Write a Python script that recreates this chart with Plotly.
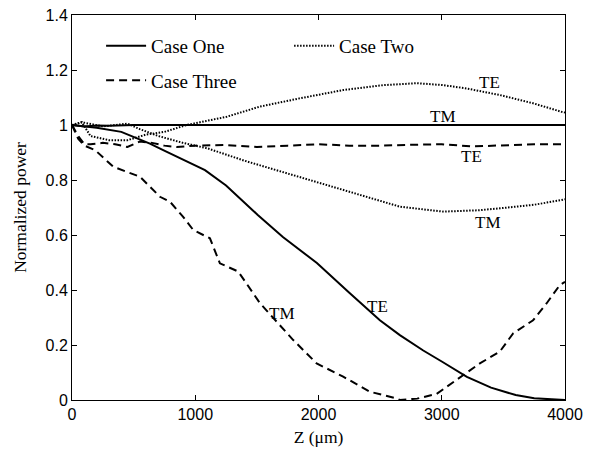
import plotly.graph_objects as go

# ---- data ----
z_one_tm = [0, 100, 200, 300, 500, 800, 1200, 1600, 2000, 2500, 3000, 3500, 4000]
p_one_tm = [1.0, 0.995, 0.998, 0.997, 1.0, 0.999, 1.0, 1.0, 1.0, 1.0, 1.0, 1.0, 1.0]

z_one_te = [0, 200, 400, 632, 740, 930, 1079, 1250, 1505, 1711, 1987, 2250, 2498, 2660, 2850, 3000, 3204, 3400, 3600, 3750, 3900, 4000]
p_one_te = [1.0, 0.99, 0.975, 0.932, 0.909, 0.868, 0.836, 0.78, 0.674, 0.593, 0.498, 0.39, 0.29, 0.236, 0.18, 0.14, 0.084, 0.045, 0.018, 0.006, 0.001, 0.0]

z_two_te = [0, 80, 150, 300, 450, 600, 750, 930, 1255, 1525, 1849, 2200, 2525, 2800, 3011, 3200, 3471, 3741, 3972, 4000]
p_two_te = [1.0, 1.01, 0.96, 0.945, 0.945, 0.965, 0.975, 1.0, 1.03, 1.067, 1.097, 1.127, 1.145, 1.152, 1.145, 1.133, 1.109, 1.079, 1.048, 1.045]

z_two_tm = [0, 80, 250, 450, 550, 700, 900, 1100, 1400, 1849, 2390, 2660, 3011, 3300, 3471, 3750, 3971, 4000]
p_two_tm = [1.0, 1.01, 0.995, 1.005, 0.985, 0.96, 0.935, 0.915, 0.87, 0.81, 0.739, 0.703, 0.685, 0.69, 0.697, 0.71, 0.727, 0.73]

z_three_te = [0, 50, 100, 150, 250, 350, 450, 550, 650, 750, 850, 1000, 1250, 1500, 1750, 2000, 2250, 2500, 2750, 3000, 3250, 3500, 3750, 4000]
p_three_te = [1.0, 0.96, 0.93, 0.93, 0.935, 0.93, 0.92, 0.94, 0.935, 0.925, 0.92, 0.925, 0.927, 0.92, 0.925, 0.93, 0.925, 0.925, 0.928, 0.93, 0.922, 0.925, 0.93, 0.93]

z_three_tm = [0, 50, 100, 187, 335, 444, 551, 632, 714, 795, 900, 984, 1119, 1200, 1349, 1525, 1795, 1985, 2200, 2417, 2633, 2660, 2800, 2958, 3120, 3309, 3471, 3579, 3741, 3850, 3958, 4000]
p_three_tm = [1.0, 0.95, 0.925, 0.909, 0.848, 0.83, 0.812, 0.776, 0.739, 0.721, 0.667, 0.618, 0.588, 0.497, 0.467, 0.352, 0.218, 0.133, 0.085, 0.03, 0.006, 0.0, 0.005, 0.022, 0.073, 0.133, 0.176, 0.242, 0.29, 0.351, 0.418, 0.43]

x_ticks = [0, 1000, 2000, 3000, 4000]
y_ticks = [0, 0.2, 0.4, 0.6, 0.8, 1.0, 1.2, 1.4]
y_tick_text = ["0", "0.2", "0.4", "0.6", "0.8", "1", "1.2", "1.4"]

labels = [
    ("TE", 3390, 1.156),
    ("TM", 3010, 1.03),
    ("TE", 3245, 0.884),
    ("TM", 3375, 0.647),
    ("TE", 2482, 0.34),
    ("TM", 1700, 0.315),
]

# ---- styles ----
SOLID = dict(color="black", width=2)
DOT = dict(color="black", width=2, dash="1.5px,1.5px")
DASH = dict(color="black", width=2, dash="8px,5px")

fig = go.Figure()
fig.add_trace(go.Scatter(x=z_one_te, y=p_one_te, mode="lines", line=SOLID, name="Case One",
                         legend="legend", showlegend=True))
fig.add_trace(go.Scatter(x=z_one_tm, y=p_one_tm, mode="lines", line=SOLID, name="Case One",
                         showlegend=False))
fig.add_trace(go.Scatter(x=z_two_te, y=p_two_te, mode="lines", line=DOT, name="Case Two",
                         legend="legend", showlegend=True))
fig.add_trace(go.Scatter(x=z_two_tm, y=p_two_tm, mode="lines", line=DOT, name="Case Two",
                         showlegend=False))
fig.add_trace(go.Scatter(x=z_three_te, y=p_three_te, mode="lines", line=DASH, name="Case Three",
                         legend="legend2", showlegend=True))
fig.add_trace(go.Scatter(x=z_three_tm, y=p_three_tm, mode="lines", line=DASH, name="Case Three",
                         showlegend=False))

for txt, zx, py in labels:
    fig.add_annotation(x=zx, y=py, text=txt, showarrow=False,
                       font=dict(family="Liberation Serif", size=17, color="black"))

axis_common = dict(
    showgrid=False, zeroline=False, showline=True, linecolor="black", linewidth=1,
    mirror="ticks", ticks="inside", ticklen=5, tickcolor="black", tickwidth=1,
    tickfont=dict(family="Liberation Sans", size=16, color="black"),
    automargin=False, ticklabeloverflow="allow",
)

fig.update_layout(
    width=589, height=459,
    margin=dict(l=72, r=24, t=15, b=59),
    paper_bgcolor="white", plot_bgcolor="white",
    xaxis=dict(range=[0, 4000], tickvals=x_ticks,
               title=dict(text="Z (μm)", font=dict(family="Liberation Serif", size=17.5, color="black"),
                          standoff=8),
               **axis_common),
    yaxis=dict(range=[0, 1.4], tickvals=y_ticks, ticktext=y_tick_text,
               title=dict(text="Normalized power", font=dict(family="Liberation Serif", size=17.5, color="black"),
                          standoff=14),
               **axis_common),
    legend=dict(orientation="h", x=0.059, y=0.92, xanchor="left", yanchor="middle",
                itemwidth=40, entrywidth=133, entrywidthmode="pixels", bgcolor="rgba(0,0,0,0)",
                font=dict(family="Liberation Serif", size=19, color="black")),
    legend2=dict(orientation="h", x=0.059, y=0.83, xanchor="left", yanchor="middle",
                 itemwidth=40, bgcolor="rgba(0,0,0,0)",
                 font=dict(family="Liberation Serif", size=19, color="black")),
)

# remove the browser's default 8px page margin so the figure sits at the window's corner
fig.write_html("out.html", config={"displayModeBar": False},
               post_script="document.body.style.margin='0';")
